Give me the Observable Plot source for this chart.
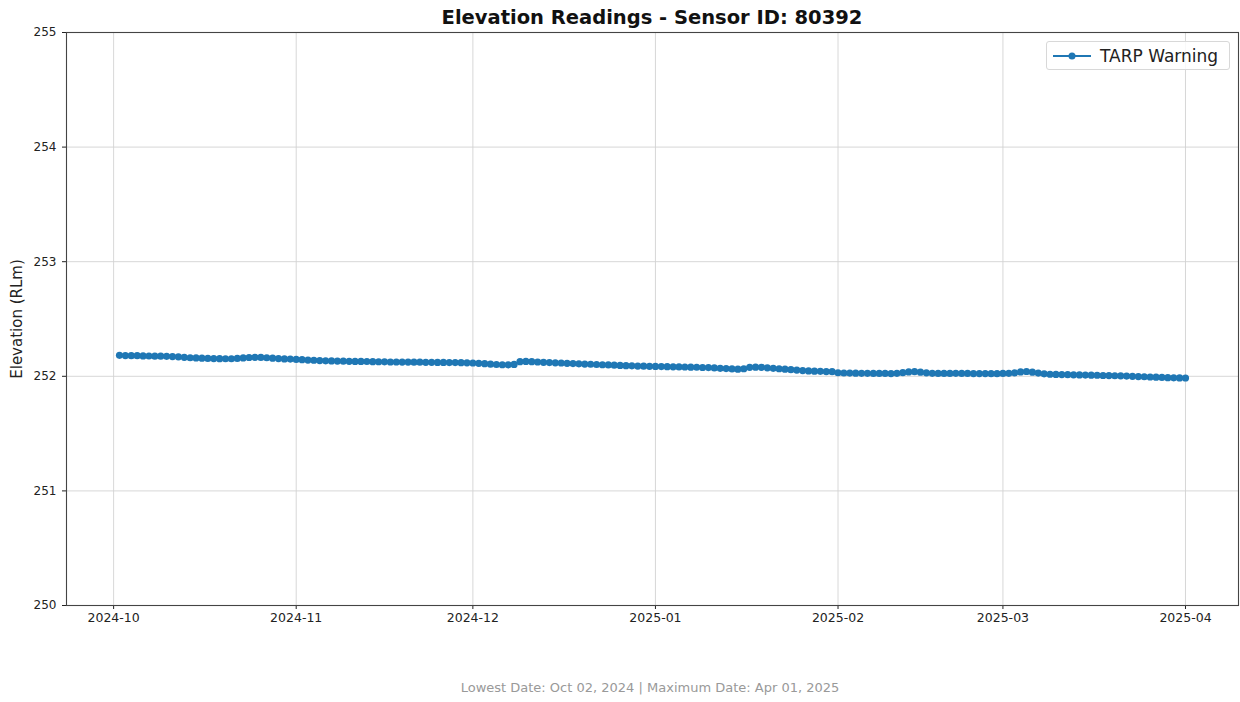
<!DOCTYPE html>
<html>
<head>
<meta charset="utf-8">
<script src="https://cdn.jsdelivr.net/npm/d3@7"></script>
<script src="https://cdn.jsdelivr.net/npm/@observablehq/plot@0.6"></script>
<style>
  html, body { margin: 0; padding: 0; background: #fff; }
  #wrap { position: relative; width: 1240px; height: 702px; font-family: "DejaVu Sans", sans-serif; }
  #title { position: absolute; left: 66px; width: 1172px; top: 7px; text-align: center; font-weight: bold; font-size: 19.5px; line-height: 22px; color: #111; }
  #chart { position: absolute; left: 0; top: 26px; }
  #legend { position: absolute; left: 1046px; top: 41px; width: 184px; height: 29px; box-sizing: border-box; border: 1px solid #d8d8d8; border-radius: 3px; background: rgba(255,255,255,0.85); display: flex; align-items: center; }
  #legend span { font-size: 17px; color: #222; margin-left: 8px; }
  #caption { position: absolute; left: 0; width: 1300px; top: 680px; text-align: center; font-size: 13px; line-height: 16px; color: #999; }
</style>
</head>
<body>
<div id="wrap">
  <div id="title"></div>
  <div id="chart"></div>
  <div id="legend"><svg width="40" height="14" style="margin-left:5px"><line x1="1" x2="39" y1="7" y2="7" stroke="#1f77b4" stroke-width="1.8"></line><circle cx="20" cy="7" r="3.5" fill="#1f77b4"></circle></svg><span></span></div>
  <div id="caption"></div>
</div>
<script>
const titleText = "Elevation Readings - Sensor ID: 80392";
const yLabel = "Elevation (RLm)";
const seriesName = "TARP Warning";
const captionText = "Lowest Date: Oct 02, 2024 | Maximum Date: Apr 01, 2025";

const startDate = "2024-10-02";
// daily readings, Oct 02 2024 .. Apr 01 2025
const octValues = [252.183,252.181,252.180,252.180,252.178,252.177,252.176,252.176,252.174,252.172,252.170,252.166,252.162,252.160,252.158,252.156,252.155,252.154,252.153,252.153,252.156,252.160,252.164,252.166,252.165,252.162,252.158,252.155,252.152,252.150];
const novValues = [252.147,252.145,252.142,252.140,252.137,252.135,252.134,252.133,252.132,252.131,252.130,252.130,252.129,252.128,252.127,252.126,252.125,252.125,252.124,252.124,252.123,252.123,252.122,252.122,252.121,252.121,252.120,252.120,252.119,252.118];
const decValues = [252.116,252.113,252.110,252.106,252.103,252.101,252.100,252.104,252.128,252.130,252.128,252.125,252.122,252.120,252.118,252.116,252.113,252.111,252.109,252.107,252.105,252.103,252.101,252.099,252.097,252.095,252.093,252.091,252.089,252.088,252.087];
const janValues = [252.086,252.085,252.084,252.083,252.082,252.081,252.080,252.079,252.077,252.076,252.073,252.070,252.067,252.064,252.062,252.066,252.078,252.080,252.078,252.074,252.070,252.066,252.062,252.058,252.054,252.050,252.047,252.045,252.043,252.041,252.040];
const febValues = [252.031,252.029,252.028,252.027,252.026,252.026,252.025,252.025,252.025,252.024,252.026,252.032,252.038,252.040,252.036,252.030,252.026,252.025,252.025,252.025,252.026,252.025,252.025,252.024,252.024,252.024,252.023,252.023];
const marValues = [252.025,252.026,252.030,252.038,252.042,252.036,252.028,252.022,252.018,252.016,252.015,252.014,252.013,252.012,252.011,252.010,252.009,252.007,252.006,252.005,252.004,252.002,252.000,251.998,251.996,251.994,251.992,251.990,251.988,251.987,251.986];
const aprValues = [251.985];

const xTickLabels = ["2024-10","2024-11","2024-12","2025-01","2025-02","2025-03","2025-04"];
const yTickValues = [250,251,252,253,254,255];
const xDomain = ["2024-09-23","2025-04-10"];

const allValues = [...octValues, ...novValues, ...decValues, ...janValues, ...febValues, ...marValues, ...aprValues];
const start = new Date(startDate + "T00:00:00Z");
const data = allValues.map((v, i) => ({date: d3.utcDay.offset(start, i), value: v}));
const xTicks = xTickLabels.map(s => new Date(s + "-01T00:00:00Z"));

document.getElementById("title").textContent = titleText;
document.getElementById("caption").textContent = captionText;
document.querySelector("#legend span").textContent = seriesName;

const color = "#1f77b4";
const plot = Plot.plot({
  width: 1240,
  height: 640,
  marginTop: 6,
  marginLeft: 66,
  marginRight: 2,
  marginBottom: 61,
  style: {fontFamily: "DejaVu Sans, sans-serif", fontSize: "12px", color: "#222", background: "transparent", overflow: "visible"},
  x: {type: "utc", domain: xDomain.map(s => new Date(s + "T00:00:00Z")), label: null},
  y: {domain: [250, 255], label: null},
  marks: [
    Plot.gridX(xTicks, {stroke: "#d2d2d2", strokeOpacity: 1, strokeWidth: 0.9}),
    Plot.gridY(yTickValues, {stroke: "#d2d2d2", strokeOpacity: 1, strokeWidth: 0.9}),
    Plot.axisX(xTicks, {tickFormat: d3.utcFormat("%Y-%m"), tickSize: 4, tickPadding: 4, fontSize: 12.5, label: null}),
    Plot.axisY(yTickValues, {tickFormat: d => String(d), tickSize: 4, tickPadding: 6, fontSize: 12, label: null}),
    Plot.frame({stroke: "#444", strokeWidth: 1.1}),
    Plot.lineY(data, {x: "date", y: "value", stroke: color, strokeWidth: 1.8}),
    Plot.dot(data, {x: "date", y: "value", r: 3.6, fill: color, stroke: "none"}),
    Plot.text([yLabel], {frameAnchor: "left", dx: -49, rotate: -90, textAnchor: "middle", fontSize: 15, fill: "#222", text: d => d})
  ]
});
document.getElementById("chart").appendChild(plot);
</script>
</body>
</html>
